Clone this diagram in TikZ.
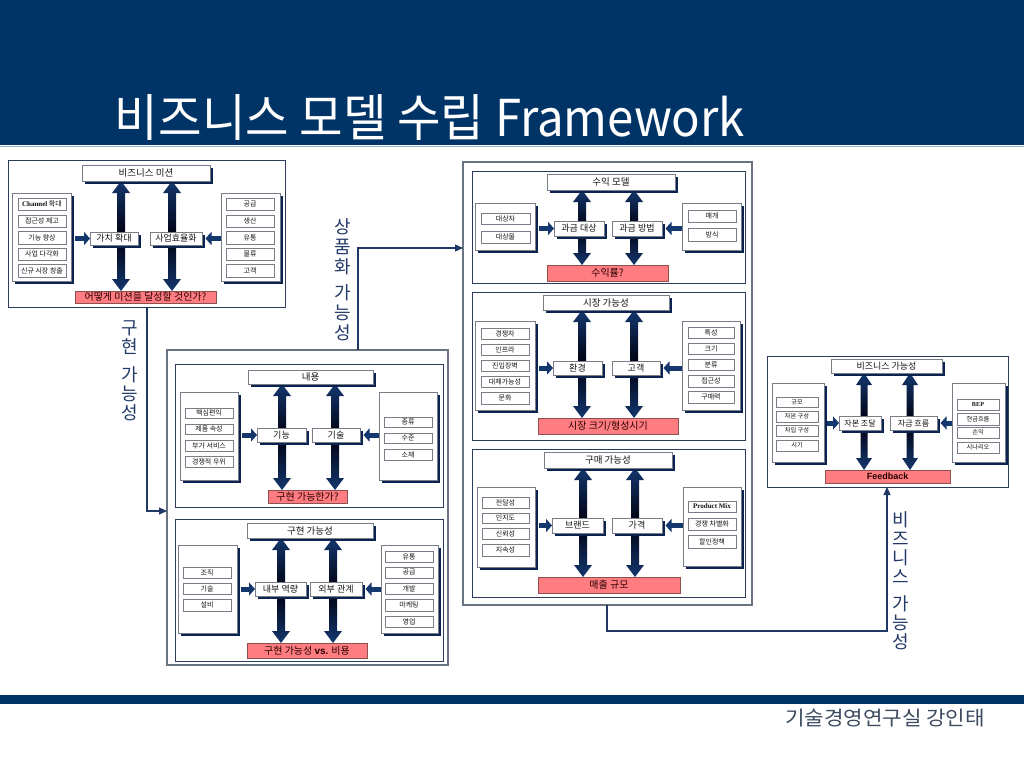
\documentclass[tikz,border=0pt]{standalone}
\usepackage{graphicx}
\usepackage{fontspec}
\setmainfont{Noto Sans CJK KR}
\newfontfamily\tms{Liberation Serif}
\newfontfamily\arl{Liberation Sans}
\usetikzlibrary{arrows.meta,shadows}
\definecolor{hdr}{RGB}{0,51,102}
\definecolor{hline}{RGB}{150,170,195}
\definecolor{pfc}{RGB}{45,60,90}
\definecolor{gfc}{RGB}{105,115,130}
\definecolor{shc}{RGB}{10,35,80}
\definecolor{bdc}{RGB}{120,125,135}
\definecolor{txc}{RGB}{20,20,20}
\definecolor{qfill}{RGB}{255,124,128}
\definecolor{qbd}{RGB}{140,80,80}
\definecolor{qtx}{RGB}{40,0,0}
\definecolor{arw}{RGB}{20,55,110}
\definecolor{arwd}{RGB}{0,0,15}
\definecolor{cnc}{RGB}{31,56,100}
\definecolor{vtc}{RGB}{35,58,105}
\definecolor{ftc}{RGB}{60,75,95}
\newcommand\mybox[7]{\node[#1, minimum width={(#5-#3)*1pt}, minimum height={(#6-#4)*1pt}] (#2) at ({(#3+#5)/2},{(#4+#6)/2}) {#7};}
\newcommand\dblarr[5]{\path[varrow] (#1,#2) -- ({#1+#4},{#2+12}) -- ({#1+#5},{#2+12}) -- ({#1+#5},{#3-12}) -- ({#1+#4},{#3-12}) -- (#1,#3) -- ({#1-#4},{#3-12}) -- ({#1-#5},{#3-12}) -- ({#1-#5},{#2+12}) -- ({#1-#4},{#2+12}) -- cycle;}
\tikzset{
 pframe/.style={draw=pfc, line width=1pt, fill=white, inner sep=0pt, outer sep=0pt},
 gframe/.style={draw=gfc, line width=1.3pt, fill=white, inner sep=0pt, outer sep=0pt},
 shd/.style={general shadow={shadow xshift=3pt, shadow yshift=-3pt, fill=shc}},
 tbox/.style={shd, draw=bdc, line width=0.6pt, fill=white, inner sep=0pt, outer sep=0pt, font=\fontsize{9.5}{10}\selectfont, text=txc},
 lbox/.style={shd, draw=bdc, line width=0.6pt, fill=white, inner sep=0pt, outer sep=0pt},
 ibox/.style={draw=bdc, line width=0.6pt, fill=white, inner sep=0pt, outer sep=0pt, font=\fontsize{7}{7}\selectfont, text=txc},
 mbox/.style={shd, draw=bdc, line width=0.6pt, fill=white, inner sep=0pt, outer sep=0pt, font=\fontsize{9}{9}\selectfont, text=txc},
 qbox/.style={draw=qbd, line width=0.6pt, fill=qfill, inner sep=0pt, outer sep=0pt, font=\fontsize{10}{10}\selectfont, text=qtx},
 varrow/.style={top color=arw, bottom color=arw, middle color=arwd},
 harrow/.style={draw=arw, line width=5pt, -{Triangle[length=6pt,width=13pt]}},
 conn/.style={draw=cnc, line width=1.2pt, -{Triangle[length=8pt,width=7pt]}},
 vtext/.style={text=vtc, align=center, inner sep=0pt},
 small/.style={font=\fontsize{9}{9}\selectfont},
 tiny/.style={font=\fontsize{6.2}{6.2}\selectfont},
 smid/.style={font=\fontsize{8}{8}\selectfont},
}
\begin{document}
\begin{tikzpicture}[x=1pt,y=-1pt]
\useasboundingbox (0,0) rectangle (1024,768);
\fill[white] (0,0) rectangle (1024,768);
% header
\fill[hdr] (0,0) rectangle (1024,145);
\draw[hline, line width=1.5pt] (0,146.5) -- (1024,146.5);
\node[text=white, inner sep=0pt] (title) at (430,117.5) {\resizebox*{630pt}{46pt}{\fontsize{46}{46}\selectfont 비즈니스 모델 수립 Framework}};
% footer
\fill[hdr] (0,695) rectangle (1024,704);
\node[text=ftc, inner sep=0pt] (foot) at (885,718) {\resizebox*{200pt}{18pt}{\fontsize{20}{20}\selectfont 기술경영연구실 강인태}};

% ===== Panel 1 =====
\mybox{pframe}{p1}{8}{160}{285}{307}{}
\dblarr{121}{181}{291}{9}{4}
\dblarr{172}{181}{291}{9}{4}
\mybox{tbox}{t1}{82}{165}{210}{181}{비즈니스 미션}
\mybox{lbox}{l1}{12}{193}{71}{281}{}
\mybox{ibox}{l1a}{18}{198}{66}{210}{{\tms\bfseries Channel} 확대}
\mybox{ibox}{l1b}{18}{215}{66}{227}{접근성 제고}
\mybox{ibox}{l1c}{18}{231}{66}{244}{기능 향상}
\mybox{ibox}{l1d}{18}{248}{66}{260}{사업 다각화}
\mybox{ibox}{l1e}{18}{264}{66}{277}{신규 시장 창출}
\mybox{lbox}{r1}{221}{193}{280}{281}{}
\mybox{ibox}{r1a}{226}{198}{274}{210}{공급}
\mybox{ibox}{r1b}{226}{215}{274}{227}{생산}
\mybox{ibox}{r1c}{226}{231}{274}{244}{유통}
\mybox{ibox}{r1d}{226}{248}{274}{260}{물류}
\mybox{ibox}{r1e}{226}{264}{274}{277}{고객}
\mybox{mbox}{m1a}{90}{232}{138}{245}{가치 확대}
\mybox{mbox}{m1b}{150}{232}{202}{245}{사업효율화}
\mybox{qbox}{q1}{75}{291}{216}{303}{어떻게 미션을 달성할 것인가?}
\draw[harrow] ([xshift=4pt]l1.east |- m1a.west) -- (m1a.west);
\draw[harrow] (r1.west |- m1b.east) -- ([xshift=3.5pt]m1b.east);

% ===== Group 2 =====
\mybox{gframe}{g2}{167}{350}{448}{665}{}
% Panel 2
\mybox{pframe}{p2}{175}{364}{443}{507}{}
\dblarr{282}{384}{490}{9}{4}
\dblarr{335}{384}{490}{9}{4}
\mybox{tbox}{t2}{248}{370}{373}{384}{내용}
\mybox{lbox}{l2}{180}{392}{238}{480}{}
\mybox{ibox}{l2a}{185}{408}{233}{418}{핵심편익}
\mybox{ibox}{l2b}{185}{424}{233}{434}{제품 속성}
\mybox{ibox}{l2c}{185}{440}{233}{451}{부가 서비스}
\mybox{ibox}{l2d}{185}{456}{233}{467}{경쟁적 우위}
\mybox{lbox}{r2}{379}{392}{437}{480}{}
\mybox{ibox}{r2a}{384}{417}{432}{427}{종류}
\mybox{ibox}{r2b}{384}{433}{432}{443}{수준}
\mybox{ibox}{r2c}{384}{449}{432}{460}{소재}
\mybox{mbox}{m2a}{257}{428}{306}{442}{기능}
\mybox{mbox}{m2b}{312}{428}{360}{442}{기술}
\mybox{qbox}{q2}{268}{490}{347}{503}{구현 가능한가?}
\draw[harrow] ([xshift=4pt]l2.east |- m2a.west) -- (m2a.west);
\draw[harrow] (r2.west |- m2b.east) -- ([xshift=3.5pt]m2b.east);
% Panel 3
\mybox{pframe}{p3}{175}{519}{443}{661}{}
\dblarr{281}{538}{643}{9}{4}
\dblarr{333}{538}{643}{9}{4}
\mybox{tbox}{t3}{247}{523}{373}{538}{구현 가능성}
\mybox{lbox}{l3}{178}{545}{237}{633}{}
\mybox{ibox}{l3a}{183}{567}{231}{578}{조직}
\mybox{ibox}{l3b}{183}{583}{231}{594}{기술}
\mybox{ibox}{l3c}{183}{599}{231}{611}{설비}
\mybox{lbox}{r3}{381}{545}{438}{633}{}
\mybox{ibox}{r3a}{385}{551}{433}{562}{유통}
\mybox{ibox}{r3b}{385}{567}{433}{578}{공급}
\mybox{ibox}{r3c}{385}{583}{433}{594}{개발}
\mybox{ibox}{r3d}{385}{599}{433}{611}{마케팅}
\mybox{ibox}{r3e}{385}{616}{433}{627}{영업}
\mybox{mbox}{m3a}{255}{582}{306}{596}{내부 역량}
\mybox{mbox}{m3b}{310}{582}{362}{596}{외부 관계}
\mybox{qbox}{q3}{247}{643}{367}{658}{구현 가능성 {\arl\bfseries vs.} 비용}
\draw[harrow] ([xshift=4pt]l3.east |- m3a.west) -- (m3a.west);
\draw[harrow] (r3.west |- m3b.east) -- ([xshift=3.5pt]m3b.east);

% ===== Right group =====
\mybox{gframe}{gR}{463}{162}{752}{605}{}
% Panel 4
\mybox{pframe}{p4}{472}{171}{745}{283}{}
\dblarr{582}{190}{265}{9}{4}
\dblarr{634}{190}{265}{9}{4}
\mybox{tbox}{t4}{547}{174}{675}{190}{수익 모델}
\mybox{lbox}{l4}{475}{203}{535}{250}{}
\mybox{ibox}{l4a}{481}{213}{530}{224}{대상자}
\mybox{ibox}{l4b}{481}{231}{530}{243}{대상물}
\mybox{lbox}{r4}{682}{203}{741}{250}{}
\mybox{ibox}{r4a}{688}{210}{736}{222}{매개}
\mybox{ibox}{r4b}{688}{228}{736}{241}{방식}
\mybox{mbox}{m4a}{554}{221}{604}{236}{과금 대상}
\mybox{mbox}{m4b}{612}{221}{662}{236}{과금 방법}
\mybox{qbox}{q4}{547}{265}{668}{281}{수익률?}
\draw[harrow] ([xshift=4pt]l4.east |- m4a.west) -- (m4a.west);
\draw[harrow] (r4.west |- m4b.east) -- ([xshift=3.5pt]m4b.east);
% Panel 5
\mybox{pframe}{p5}{472}{292}{745}{440}{}
\dblarr{582}{310}{418}{9}{4}
\dblarr{634}{310}{418}{9}{4}
\mybox{tbox}{t5}{543}{295}{669}{310}{시장 가능성}
\mybox{lbox}{l5}{475}{321}{535}{410}{}
\mybox{ibox}{l5a}{481}{328}{529}{339}{경쟁자}
\mybox{ibox}{l5b}{481}{344}{529}{355}{인프라}
\mybox{ibox}{l5c}{481}{360}{529}{371}{진입장벽}
\mybox{ibox}{l5d}{481}{376}{529}{387}{대체가능성}
\mybox{ibox}{l5e}{481}{392}{529}{404}{문화}
\mybox{lbox}{r5}{682}{321}{740}{410}{}
\mybox{ibox}{r5a}{688}{327}{734}{338}{특성}
\mybox{ibox}{r5b}{688}{343}{734}{354}{크기}
\mybox{ibox}{r5c}{688}{359}{734}{370}{분류}
\mybox{ibox}{r5d}{688}{375}{734}{387}{접근성}
\mybox{ibox}{r5e}{688}{391}{734}{403}{구매력}
\mybox{mbox}{m5a}{553}{361}{602}{375}{환경}
\mybox{mbox}{m5b}{612}{361}{660}{375}{고객}
\mybox{qbox}{q5}{538}{418}{678}{434}{시장 크기/형성시기}
\draw[harrow] ([xshift=4pt]l5.east |- m5a.west) -- (m5a.west);
\draw[harrow] (r5.west |- m5b.east) -- ([xshift=3.5pt]m5b.east);
% Panel 6
\mybox{pframe}{p6}{472}{449}{745}{597}{}
\dblarr{583}{468}{577}{9}{4}
\dblarr{635}{468}{577}{9}{4}
\mybox{tbox}{t6}{544}{452}{672}{468}{구매 가능성}
\mybox{lbox}{l6}{477}{487}{535}{567}{}
\mybox{ibox}{l6a}{482}{497}{529}{508}{전달성}
\mybox{ibox}{l6b}{482}{513}{529}{523}{인지도}
\mybox{ibox}{l6c}{482}{528}{529}{539}{신뢰성}
\mybox{ibox}{l6d}{482}{544}{529}{556}{지속성}
\mybox{lbox}{r6}{683}{487}{741}{566}{}
\mybox{ibox}{r6a}{688}{501}{736}{512}{{\tms\bfseries Product Mix}}
\mybox{ibox}{r6b}{688}{518}{736}{530}{경쟁 차별화}
\mybox{ibox}{r6c}{688}{535}{736}{548}{할인정책}
\mybox{mbox}{m6a}{552}{518}{603}{533}{브랜드}
\mybox{mbox}{m6b}{612}{518}{662}{533}{가격}
\mybox{qbox}{q6}{538}{577}{680}{593}{매출 규모}
\draw[harrow] ([xshift=4pt]l6.east |- m6a.west) -- (m6a.west);
\draw[harrow] (r6.west |- m6b.east) -- ([xshift=3.5pt]m6b.east);

% ===== Panel 7 =====
\mybox{pframe}{bp}{767}{356}{1008}{487}{}
\dblarr{864}{373}{470}{8}{3.5}
\dblarr{910}{373}{470}{8}{3.5}
\mybox{tbox,small}{t7}{831}{359}{942}{373}{비즈니스 가능성}
\mybox{lbox}{l7}{772}{383}{824}{462}{}
\mybox{ibox,tiny}{l7a}{776}{397}{818}{407}{규모}
\mybox{ibox,tiny}{l7b}{776}{411}{818}{422}{자본 구성}
\mybox{ibox,tiny}{l7c}{776}{425}{818}{436}{차입 구성}
\mybox{ibox,tiny}{l7d}{776}{440}{818}{451}{시기}
\mybox{lbox}{r7}{952}{383}{1005}{462}{}
\mybox{ibox,tiny}{r7a}{957}{399}{999}{410}{{\tms\bfseries BEP}}
\mybox{ibox,tiny}{r7b}{957}{413}{999}{425}{현금흐름}
\mybox{ibox,tiny}{r7c}{957}{427}{999}{438}{손익}
\mybox{ibox,tiny}{r7d}{957}{442}{999}{453}{시나리오}
\mybox{mbox,smid}{m7a}{839}{416}{881}{430}{자본 조달}
\mybox{mbox,smid}{m7b}{890}{416}{937}{430}{자금 흐름}
\mybox{qbox}{q7}{825}{470}{950}{483}{\arl\bfseries\fontsize{9}{9}\selectfont Feedback}
\draw[harrow] ([xshift=3pt]l7.east |- m7a.west) -- (m7a.west);
\draw[harrow] (r7.west |- m7b.east) -- ([xshift=3.5pt]m7b.east);

% ===== vertical labels =====
\node[vtext, font=\fontsize{18}{19}\selectfont] (lab1) at (130,371) {구\\현\\[9pt]가\\능\\성};
\node[vtext, font=\fontsize{18}{20}\selectfont] (lab2) at (343,280) {상\\품\\화\\[6pt]가\\능\\성};
\node[vtext, font=\fontsize{18}{19}\selectfont] (lab3) at (901,581) {비\\즈\\니\\스\\[8pt]가\\능\\성};

% ===== connectors =====
\coordinate (c1) at (147,511);
\draw[conn] (p1.south -| c1) |- (g2.west |- c1);
\coordinate (c2) at (358,248);
\draw[conn] (g2.north -| c2) |- (gR.west |- c2);
\coordinate (c3a) at (607,631);
\coordinate (c3b) at (887,631);
\draw[conn] (gR.south -| c3a) -- (c3a) -- (c3b) -- (bp.south -| c3b);
\end{tikzpicture}
\end{document}
